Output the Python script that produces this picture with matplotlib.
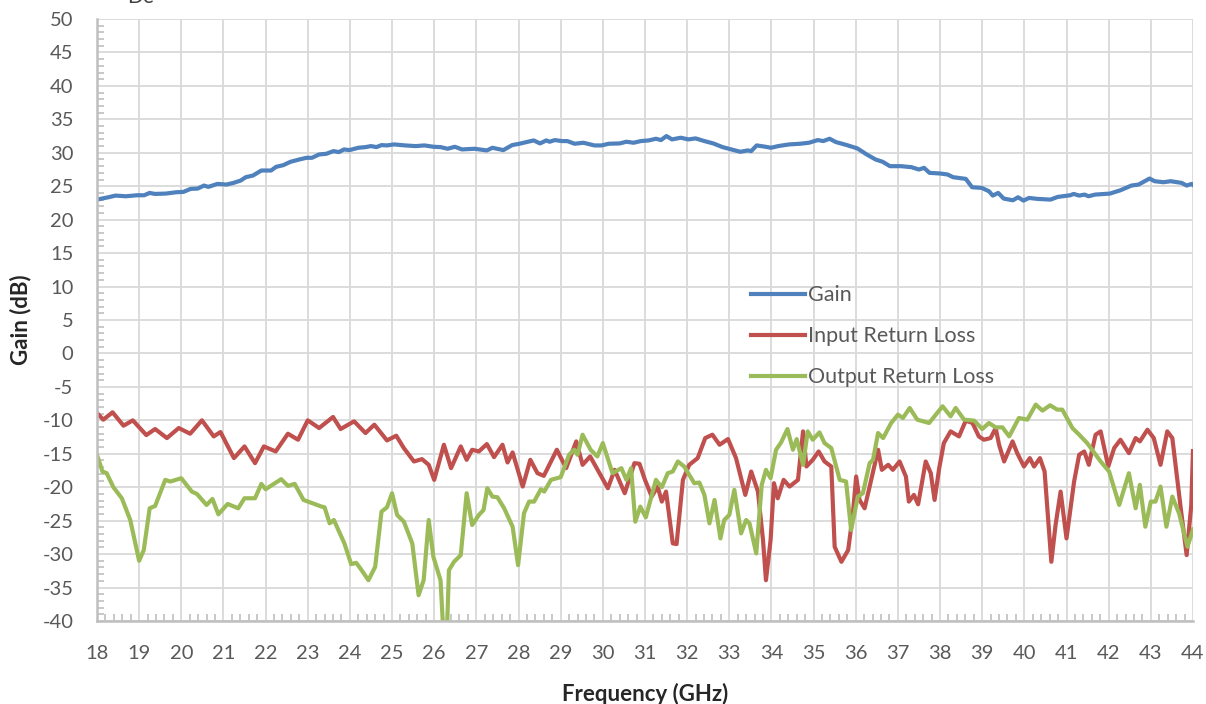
import matplotlib
matplotlib.use('Agg')
import matplotlib.pyplot as plt
from matplotlib.ticker import MultipleLocator

# gain curve (GHz, dB)
gain_f = [18.0, 18.27, 18.44, 18.69, 18.95, 19.12, 19.25, 19.37, 19.63, 19.88,
          20.05, 20.22, 20.39, 20.54, 20.64, 20.86, 21.07, 21.24, 21.41, 21.53,
          21.7, 21.9, 22.13, 22.25, 22.42, 22.59, 22.8, 22.97, 23.1, 23.27,
          23.44, 23.61, 23.74, 23.86, 23.99, 24.2, 24.37, 24.5, 24.63, 24.75,
          24.88, 25.05, 25.31, 25.56, 25.77, 25.98, 26.15, 26.32, 26.49, 26.66,
          26.96, 27.25, 27.38, 27.64, 27.85, 28.02, 28.19, 28.36, 28.51, 28.66,
          28.74, 28.86, 29.03, 29.16, 29.33, 29.54, 29.8, 29.97, 30.14, 30.4,
          30.56, 30.73, 30.9, 31.09, 31.26, 31.38, 31.51, 31.64, 31.85, 32.03,
          32.2, 32.41, 32.62, 32.84, 33.05, 33.26, 33.44, 33.52, 33.65, 33.86,
          33.99, 34.16, 34.42, 34.68, 34.89, 35.1, 35.23, 35.38, 35.53, 35.79,
          36.04, 36.26, 36.47, 36.64, 36.81, 37.07, 37.32, 37.5, 37.62, 37.75,
          38.01, 38.18, 38.31, 38.61, 38.76, 38.99, 39.16, 39.25, 39.38, 39.51,
          39.73, 39.85, 39.98, 40.11, 40.32, 40.62, 40.79, 41.09, 41.17, 41.3,
          41.43, 41.52, 41.68, 42.03, 42.28, 42.54, 42.71, 42.97, 43.09, 43.3,
          43.47, 43.73, 43.85, 43.97, 44.0]
gain_db = [23.0, 23.35, 23.6, 23.5, 23.65, 23.65, 24.0, 23.85, 23.9, 24.1,
           24.15, 24.6, 24.65, 25.1, 24.9, 25.35, 25.25, 25.5, 25.85, 26.35,
           26.6, 27.35, 27.35, 27.9, 28.15, 28.65, 29.0, 29.25, 29.25, 29.75,
           29.85, 30.25, 30.1, 30.5, 30.4, 30.75, 30.85, 31.0, 30.85, 31.15,
           31.1, 31.25, 31.1, 31.0, 31.1, 30.9, 30.85, 30.6, 30.9, 30.5,
           30.6, 30.35, 30.75, 30.4, 31.15, 31.35, 31.6, 31.85, 31.4, 31.85,
           31.65, 31.9, 31.75, 31.75, 31.35, 31.5, 31.1, 31.1, 31.35, 31.4,
           31.65, 31.5, 31.75, 31.85, 32.1, 31.9, 32.5, 32.0, 32.25, 32.0,
           32.15, 31.75, 31.4, 30.85, 30.5, 30.15, 30.35, 30.25, 31.1, 30.9,
           30.75, 31.0, 31.25, 31.35, 31.5, 31.9, 31.75, 32.1, 31.6, 31.15,
           30.65, 29.75, 29.0, 28.65, 28.0, 28.0, 27.85, 27.5, 27.75, 27.0,
           26.9, 26.75, 26.35, 26.1, 24.85, 24.75, 24.25, 23.6, 24.0, 23.15,
           22.9, 23.35, 22.85, 23.25, 23.1, 23.0, 23.4, 23.65, 23.85, 23.6,
           23.75, 23.5, 23.75, 23.9, 24.4, 25.1, 25.25, 26.15, 25.75, 25.6,
           25.75, 25.5, 25.1, 25.35, 25.2]

# input return loss
irl_f = [18.0, 18.15, 18.37, 18.63, 18.85, 19.17, 19.38, 19.66, 19.94, 20.21,
         20.49, 20.77, 20.93, 21.25, 21.5, 21.75, 21.96, 22.24, 22.53, 22.77,
         23.0, 23.27, 23.6, 23.78, 24.1, 24.37, 24.58, 24.88, 25.1, 25.28,
         25.52, 25.71, 25.87, 26.0, 26.23, 26.4, 26.63, 26.77, 26.9, 27.06,
         27.25, 27.42, 27.62, 27.74, 27.86, 28.1, 28.28, 28.45, 28.6, 28.91,
         29.13, 29.37, 29.52, 29.7, 30.12, 30.28, 30.52, 30.75, 30.87, 31.0,
         31.16, 31.3, 31.4, 31.5, 31.66, 31.75, 31.9, 32.05, 32.25, 32.43,
         32.6, 32.77, 32.97, 33.16, 33.38, 33.52, 33.68, 33.8, 33.87, 33.98,
         34.06, 34.15, 34.29, 34.43, 34.63, 34.75, 34.83, 34.98, 35.12, 35.26,
         35.42, 35.5, 35.66, 35.82, 35.93, 36.01, 36.09, 36.21, 36.33, 36.53,
         36.62, 36.77, 36.88, 37.04, 37.19, 37.26, 37.38, 37.48, 37.66, 37.78,
         37.87, 37.98, 38.09, 38.25, 38.45, 38.61, 38.77, 38.92, 39.04, 39.2,
         39.32, 39.4, 39.52, 39.72, 39.83, 39.99, 40.13, 40.23, 40.37, 40.48,
         40.64, 40.74, 40.86, 41.0, 41.18, 41.3, 41.42, 41.53, 41.69, 41.81,
         41.99, 42.13, 42.28, 42.48, 42.64, 42.74, 42.92, 43.07, 43.23, 43.39,
         43.51, 43.71, 43.85, 43.96, 44.0]
irl_db = [-8.9, -9.9, -8.8, -10.8, -10.0, -12.2, -11.3, -12.65, -11.15, -12.0,
          -10.0, -12.4, -11.75, -15.65, -13.9, -16.4, -13.9, -14.65, -12.0, -12.9,
          -10.0, -11.15, -9.5, -11.3, -10.15, -11.9, -10.65, -13.0, -12.3, -14.15,
          -16.15, -15.8, -16.65, -18.9, -13.65, -17.15, -13.9, -15.9, -14.4, -14.65,
          -13.55, -15.5, -13.65, -16.3, -14.8, -19.9, -15.9, -17.9, -18.3, -14.4,
          -17.15, -13.15, -16.65, -15.4, -20.15, -17.4, -20.9, -16.4, -16.5, -18.9,
          -21.4, -19.9, -22.15, -20.65, -28.4, -28.5, -18.9, -16.65, -15.65, -12.65,
          -12.15, -13.65, -12.8, -15.65, -21.15, -17.65, -20.65, -27.9, -33.9, -27.9,
          -19.4, -21.65, -18.9, -19.9, -18.9, -11.65, -16.9, -15.9, -14.65, -16.15,
          -16.9, -28.9, -31.15, -29.4, -24.15, -18.4, -21.9, -23.15, -19.9, -14.4,
          -17.4, -16.65, -17.4, -16.15, -18.4, -22.15, -21.15, -22.55, -16.15, -17.9,
          -21.9, -17.15, -13.4, -11.65, -12.4, -10.05, -10.4, -12.4, -12.9, -12.65,
          -11.15, -13.65, -16.15, -13.15, -14.9, -16.9, -15.65, -16.9, -15.65, -17.65,
          -31.15, -25.65, -20.65, -27.65, -19.15, -15.15, -14.65, -16.65, -12.15, -11.65,
          -16.9, -14.15, -12.9, -14.9, -12.65, -13.15, -11.4, -12.65, -16.65, -11.65,
          -12.65, -23.15, -30.15, -22.65, -14.6]

# output return loss
orl_f = [18.0, 18.13, 18.23, 18.39, 18.59, 18.79, 19.0, 19.11, 19.25, 19.38,
         19.62, 19.74, 20.0, 20.25, 20.37, 20.6, 20.74, 20.88, 21.1, 21.35,
         21.5, 21.75, 21.9, 22.0, 22.37, 22.53, 22.69, 22.9, 23.33, 23.4,
         23.52, 23.62, 23.87, 24.03, 24.15, 24.25, 24.44, 24.6, 24.75, 24.88,
         25.0, 25.12, 25.28, 25.48, 25.63, 25.75, 25.87, 25.98, 26.15, 26.22,
         26.3, 26.35, 26.47, 26.63, 26.77, 26.9, 27.06, 27.17, 27.26, 27.38,
         27.5, 27.66, 27.86, 27.99, 28.13, 28.25, 28.37, 28.53, 28.61, 28.77,
         29.0, 29.2, 29.32, 29.4, 29.52, 29.71, 29.87, 30.0, 30.23, 30.44,
         30.56, 30.67, 30.77, 30.89, 31.02, 31.26, 31.4, 31.54, 31.66, 31.78,
         31.93, 32.17, 32.29, 32.41, 32.53, 32.65, 32.79, 32.88, 33.0, 33.12,
         33.28, 33.4, 33.48, 33.64, 33.77, 33.87, 33.98, 34.11, 34.23, 34.38,
         34.51, 34.6, 34.75, 34.86, 34.98, 35.14, 35.26, 35.42, 35.62, 35.77,
         35.89, 36.05, 36.17, 36.33, 36.41, 36.53, 36.65, 36.84, 37.0, 37.12,
         37.28, 37.46, 37.74, 37.9, 38.06, 38.25, 38.37, 38.57, 38.81, 39.0,
         39.16, 39.32, 39.48, 39.64, 39.87, 40.07, 40.27, 40.43, 40.61, 40.78,
         40.9, 41.14, 41.3, 41.49, 41.81, 42.01, 42.25, 42.48, 42.64, 42.74,
         42.87, 43.0, 43.11, 43.23, 43.37, 43.51, 43.67, 43.87, 44.0]
orl_db = [-15.15, -17.65, -17.9, -20.0, -21.65, -24.9, -31.0, -29.4, -23.15, -22.8,
          -18.9, -19.15, -18.65, -20.65, -21.0, -22.65, -21.75, -24.05, -22.5, -23.15,
          -21.65, -21.65, -19.5, -20.3, -18.8, -19.8, -19.5, -21.9, -22.9, -23.0,
          -25.4, -24.9, -28.4, -31.5, -31.3, -32.15, -33.9, -31.9, -23.65, -23.0,
          -20.9, -24.15, -25.15, -28.4, -36.15, -33.9, -24.9, -30.4, -33.9, -42.0,
          -42.0, -32.4, -31.15, -30.15, -20.9, -25.65, -24.15, -23.4, -20.15, -21.4,
          -21.5, -23.15, -25.9, -31.65, -23.9, -22.15, -22.15, -20.3, -20.65, -18.9,
          -18.5, -15.15, -14.4, -15.15, -12.15, -14.4, -15.4, -13.4, -17.9, -17.15,
          -18.9, -17.15, -25.15, -22.9, -24.5, -18.9, -20.0, -17.9, -17.65, -16.15,
          -16.9, -19.4, -19.3, -21.15, -25.4, -21.9, -27.65, -24.9, -24.15, -20.4,
          -26.9, -24.9, -25.4, -29.9, -19.65, -17.4, -18.65, -14.4, -13.3, -11.3,
          -14.4, -12.8, -16.65, -11.65, -12.9, -11.8, -13.4, -14.15, -18.9, -19.15,
          -26.4, -21.4, -20.9, -16.4, -15.9, -11.9, -12.65, -10.4, -9.15, -9.65,
          -8.15, -9.9, -10.4, -9.15, -7.9, -9.4, -8.15, -9.9, -10.05, -11.3,
          -10.4, -11.05, -11.05, -12.4, -9.65, -9.9, -7.65, -8.55, -7.75, -8.4,
          -8.4, -11.15, -12.15, -13.4, -16.15, -17.65, -22.65, -17.9, -23.15, -19.65,
          -25.9, -22.15, -22.15, -19.9, -25.9, -21.4, -23.9, -28.9, -26.3]

plt.rcParams['font.family'] = ['Lato', 'DejaVu Sans']
plt.rcParams['axes.unicode_minus'] = False

fig = plt.figure(figsize=(12.06, 7.04), dpi=100)
ax = fig.add_axes([0.0804, 0.1179, 0.9088, 0.8551])

lw = 3.0
ax.plot(gain_f, gain_db, color='#4f81bd', lw=lw, solid_joinstyle='round', label='Gain')
ax.plot(irl_f, irl_db, color='#c0504d', lw=lw, solid_joinstyle='round', label='Input Return Loss')
ax.plot(orl_f, orl_db, color='#9bbb59', lw=lw, solid_joinstyle='round', label='Output Return Loss')

ax.set_xlim(18, 44)
ax.set_ylim(-40, 50)
ax.xaxis.set_major_locator(MultipleLocator(1))
ax.xaxis.set_minor_locator(MultipleLocator(0.2))
ax.yaxis.set_major_locator(MultipleLocator(5))
ax.yaxis.set_minor_locator(MultipleLocator(1))

ax.grid(True, which='major', color='#d9d9d9', lw=1.3)
ax.set_axisbelow(True)
for s in ['top', 'right']:
    ax.spines[s].set_visible(False)
for s in ['left', 'bottom']:
    ax.spines[s].set_color('#bfbfbf')
    ax.spines[s].set_linewidth(1.8)

ax.tick_params(which='major', length=0, pad=17, labelsize=14.5, labelcolor='#595959')
ax.tick_params(which='minor', direction='in', length=5, width=1.2, color='#bfbfbf')

ax.set_xlabel('Frequency (GHz)', fontsize=16, fontweight='bold', color='#262626', labelpad=15)
ax.set_ylabel('Gain (dB)', fontsize=16, fontweight='bold', color='#262626', labelpad=8)

leg = ax.legend(loc='upper left', bbox_to_anchor=(0.597, 0.558), frameon=False,
                fontsize=15.5, handlelength=2.5, handletextpad=0.15,
                labelspacing=0.98, borderpad=0, borderaxespad=0)
for t in leg.get_texts():
    t.set_color('#595959')

# title fragment cut at the top edge
fig.text(0.1053, 0.9957, 'De', fontsize=15, color='#404040', va='baseline')

fig.savefig('out.png', dpi=100)
